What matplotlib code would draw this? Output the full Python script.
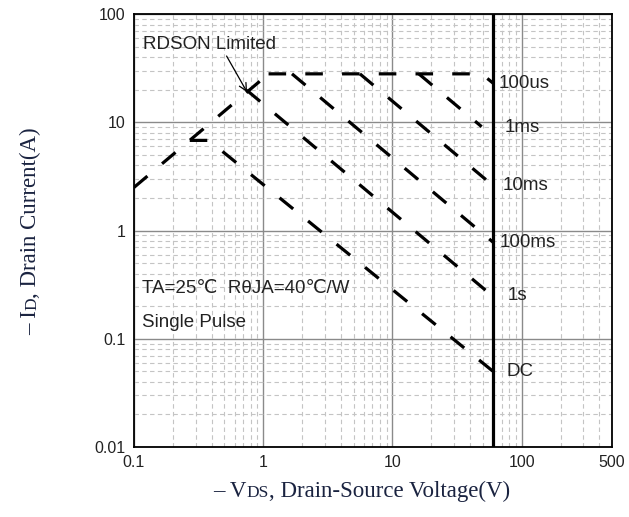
import matplotlib.pyplot as plt
from matplotlib.ticker import FixedLocator, LogLocator, NullFormatter

plt.rcParams['font.family'] = ['Liberation Sans', 'DejaVu Sans']

# SOA curves (V, A)
rdson_v = [0.1, 1.1]
rdson_i = [2.5, 28]
us100_v = [1.1, 49, 60]
us100_i = [28, 28, 23]
ms1_v = [16, 49]
ms1_i = [28, 9.1]
ms10_v = [5.6, 60]
ms10_i = [28, 2.6]
ms100_v = [1.67, 60]
ms100_i = [28, 0.78]
s1_v = [0.745, 60]
s1_i = [19.8, 0.246]
dc_v = [0.27, 0.38, 60]
dc_i = [6.8, 6.8, 0.05]
vds_max = 60

curves = [(rdson_v, rdson_i), (us100_v, us100_i), (ms1_v, ms1_i),
          (ms10_v, ms10_i), (ms100_v, ms100_i), (s1_v, s1_i), (dc_v, dc_i)]

labels = ['100us', '1ms', '10ms', '100ms', '1s', 'DC']
label_x = [66, 74, 71, 68, 78, 76]
label_y = [23, 9.0, 2.6, 0.78, 0.25, 0.05]

xticks = [0.1, 1, 10, 100, 500]
yticks = [0.01, 0.1, 1, 10, 100]

fig = plt.figure(figsize=(6.29, 5.17), dpi=100)
ax = fig.add_axes([0.213, 0.1354, 0.760, 0.8375])
ax.set_xscale('log')
ax.set_yscale('log')
ax.set_xlim(0.1, 500)
ax.set_ylim(0.01, 100)

# grid
ax.grid(which='major', color='#8a8a8a', lw=1.0, ls='-')
ax.grid(which='minor', color='#c4c4c4', lw=0.8, ls=(0, (4, 3)))
ax.xaxis.set_minor_locator(LogLocator(base=10, subs=range(2, 10)))
ax.yaxis.set_minor_locator(LogLocator(base=10, subs=range(2, 10)))
ax.xaxis.set_minor_formatter(NullFormatter())
ax.yaxis.set_minor_formatter(NullFormatter())
ax.set_axisbelow(True)

for v, i in curves:
    ax.plot(v, i, color='black', lw=2.3, ls=(0, (5.5, 6)), dash_capstyle='butt')

ax.axvline(vds_max, color='black', lw=2.3)

for s in ax.spines.values():
    s.set_linewidth(1.3)

ax.xaxis.set_major_locator(FixedLocator(xticks))
ax.yaxis.set_major_locator(FixedLocator(yticks))
ax.set_xticklabels(['0.1', '1', '10', '100', '500'])
ax.set_yticklabels(['0.01', '0.1', '1', '10', '100'])
ax.tick_params(which='both', length=0, labelsize=11.5, colors='#222222')
ax.tick_params(axis='x', pad=6)
ax.tick_params(axis='y', pad=6)

for lab, x, y in zip(labels, label_x, label_y):
    ax.text(x, y, lab, fontsize=13.5, va='center', ha='left', color='#222222')

ax.annotate('RDSON Limited', xy=(0.75, 19), xytext=(0.118, 52), fontsize=13.5,
            color='#222222', va='center',
            arrowprops=dict(arrowstyle='->', color='black', lw=0.9,
                            shrinkA=0, shrinkB=0, relpos=(0.6, 0.2)))
ax.text(0.115, 0.29, 'TA=25\u2103  R\u03b8JA=40\u2103/W', fontsize=13.5,
        va='center', color='#222222')
ax.text(0.115, 0.14, 'Single Pulse', fontsize=13.5, va='center', color='#222222')

# axis titles with small-cap subscripts, placed piece by piece
navy = '#1a2340'
fig.canvas.draw()
r = fig.canvas.get_renderer()


def chain(parts, x, y, rot):
    for txt, size in parts:
        t = fig.text(x, y, txt, family='Liberation Serif', fontsize=size,
                     color=navy, rotation=rot, rotation_mode='anchor',
                     ha='left', va='baseline')
        bb = t.get_window_extent(r)
        if rot == 0:
            x += bb.width / fig.bbox.width
        else:
            y += bb.height / fig.bbox.height


chain([('\u2013 V', 16.5), ('DS', 12.5), (', Drain-Source Voltage(V)', 16.5)],
      213 / 629, 1 - 497 / 517, 0)
chain([('\u2013 I', 16.5), ('D', 12.5), (', Drain Current(A)', 16.5)],
      36 / 629, 1 - 335 / 517, 90)

plt.savefig('out.png', dpi=100)
